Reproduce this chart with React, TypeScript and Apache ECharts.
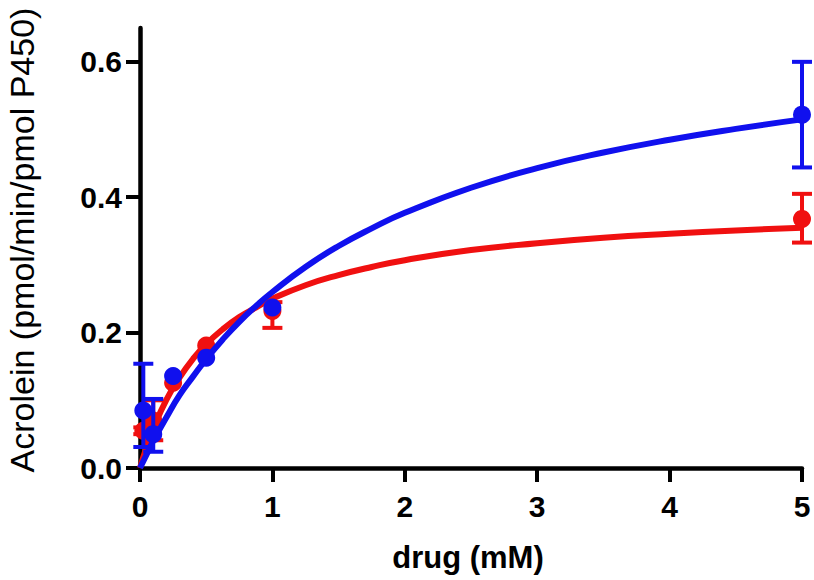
import React, { useEffect, useRef } from "react";
import * as echarts from "echarts";

// Measured data (drug mM, acrolein rate)
const redX = [0.025, 0.1, 0.25, 0.5, 1, 5];
const redY = [0.055, 0.07, 0.126, 0.181, 0.232, 0.368];
const redLow = [0.05, 0.041, 0.126, 0.181, 0.207, 0.333];
const redHigh = [0.06, 0.1, 0.126, 0.181, 0.245, 0.405];

const blueX = [0.025, 0.1, 0.25, 0.5, 1, 5];
const blueY = [0.085, 0.05, 0.136, 0.163, 0.237, 0.522];
const blueLow = [0.031, 0.024, 0.136, 0.163, 0.237, 0.444];
const blueHigh = [0.154, 0.102, 0.136, 0.163, 0.237, 0.6];

// Fitted curves
const fitX = [0, 0.05, 0.1, 0.2, 0.3, 0.4, 0.5, 0.625, 0.75, 0.875, 1, 1.25, 1.5, 1.75, 2, 2.5, 3, 3.5, 4, 4.5, 5];
const redFit = [0, 0.031, 0.058, 0.101, 0.134, 0.161, 0.183, 0.205, 0.223, 0.237, 0.25, 0.27, 0.285, 0.297, 0.307, 0.322, 0.332, 0.34, 0.346, 0.351, 0.355];
const blueFit = [0, 0.02, 0.04, 0.075, 0.108, 0.135, 0.161, 0.19, 0.216, 0.239, 0.26, 0.297, 0.328, 0.354, 0.377, 0.414, 0.443, 0.466, 0.485, 0.501, 0.515];

const xTicks = [0, 1, 2, 3, 4, 5];
const yTicks = [0, 0.2, 0.4, 0.6];

const RED = "#f01010";
const BLUE = "#1010ee";
const FONT = "'Liberation Sans', Arial, Helvetica, sans-serif";

function errSeries(xs: number[], lo: number[], hi: number[], color: string, z: number) {
  return {
    type: "custom",
    z,
    data: xs.map((x, i) => [x, lo[i], hi[i]]),
    renderItem: (params: any, api: any) => {
      const x = api.value(0);
      if (Math.abs(api.value(2) - api.value(1)) < 1e-6) return { type: "group", children: [] };
      const p1 = api.coord([x, api.value(1)]);
      const p2 = api.coord([x, api.value(2)]);
      const hw = 10;
      const st = { stroke: color, lineWidth: 4 };
      return {
        type: "group",
        children: [
          { type: "line", shape: { x1: p1[0], y1: p1[1], x2: p2[0], y2: p2[1] }, style: st },
          { type: "line", shape: { x1: p1[0] - hw, y1: p1[1], x2: p1[0] + hw, y2: p1[1] }, style: st },
          { type: "line", shape: { x1: p2[0] - hw, y1: p2[1], x2: p2[0] + hw, y2: p2[1] }, style: st },
        ],
      };
    },
  };
}

export default function App() {
  const ref = useRef<HTMLDivElement>(null);
  useEffect(() => {
    if (!ref.current) return;
    const chart = echarts.init(ref.current, undefined, { renderer: "svg" });
    chart.setOption({
      animation: false,
      backgroundColor: "#fff",
      grid: { left: 140, right: 12, top: 28, bottom: 112 },
      xAxis: {
        type: "value",
        min: 0,
        max: 5,
        interval: 1,
        axisLine: { show: true, onZero: false, lineStyle: { color: "#000", width: 4.5 } },
        axisTick: { show: true, length: 14, lineStyle: { color: "#000", width: 4 } },
        axisLabel: {
          margin: 23,
          color: "#000",
          fontSize: 30,
          fontWeight: "bold",
          fontFamily: FONT,
          formatter: (v: number) => (xTicks.includes(v) ? String(v) : ""),
        },
        splitLine: { show: false },
      },
      yAxis: {
        type: "value",
        min: 0,
        max: 0.65,
        interval: 0.2,
        axisLine: { show: true, onZero: false, lineStyle: { color: "#000", width: 4.5 } },
        axisTick: { show: true, length: 14, lineStyle: { color: "#000", width: 4 } },
        axisLabel: {
          margin: 18,
          color: "#000",
          fontSize: 30,
          fontWeight: "bold",
          fontFamily: FONT,
          showMaxLabel: false,
          formatter: (v: number) => {
            const t = yTicks.find((k) => Math.abs(k - v) < 1e-9);
            return t === undefined ? "" : t.toFixed(1);
          },
        },
        splitLine: { show: false },
      },
      graphic: [
        {
          type: "text",
          x: 22,
          y: 240,
          rotation: Math.PI / 2,
          style: {
            text: "Acrolein (pmol/min/pmol P450)",
            fontSize: 34,
            fontFamily: FONT,
            fill: "#000",
            align: "center",
            verticalAlign: "middle",
          },
        },
        {
          type: "text",
          x: 468,
          y: 557,
          style: {
            text: "drug (mM)",
            fontSize: 31,
            fontWeight: "bold",
            fontFamily: FONT,
            fill: "#000",
            align: "center",
            verticalAlign: "middle",
          },
        },
      ],
      series: [
        {
          type: "line",
          z: 2,
          data: fitX.map((x, i) => [x, redFit[i]]),
          smooth: true,
          showSymbol: false,
          lineStyle: { color: RED, width: 6 },
        },
        errSeries(redX, redLow, redHigh, RED, 3),
        {
          type: "scatter",
          z: 4,
          data: redX.map((x, i) => [x, redY[i]]),
          symbolSize: 18,
          itemStyle: { color: RED, opacity: 1 },
        },
        {
          type: "line",
          z: 5,
          data: fitX.map((x, i) => [x, blueFit[i]]),
          smooth: true,
          showSymbol: false,
          lineStyle: { color: BLUE, width: 6 },
        },
        errSeries(blueX, blueLow, blueHigh, BLUE, 6),
        {
          type: "scatter",
          z: 7,
          data: blueX.map((x, i) => [x, blueY[i]]),
          symbolSize: 18,
          itemStyle: { color: BLUE, opacity: 1 },
        },
      ],
    });
    return () => chart.dispose();
  }, []);
  return <div ref={ref} style={{ width: 814, height: 580, position: "absolute", left: 0, top: 0 }} />;
}
